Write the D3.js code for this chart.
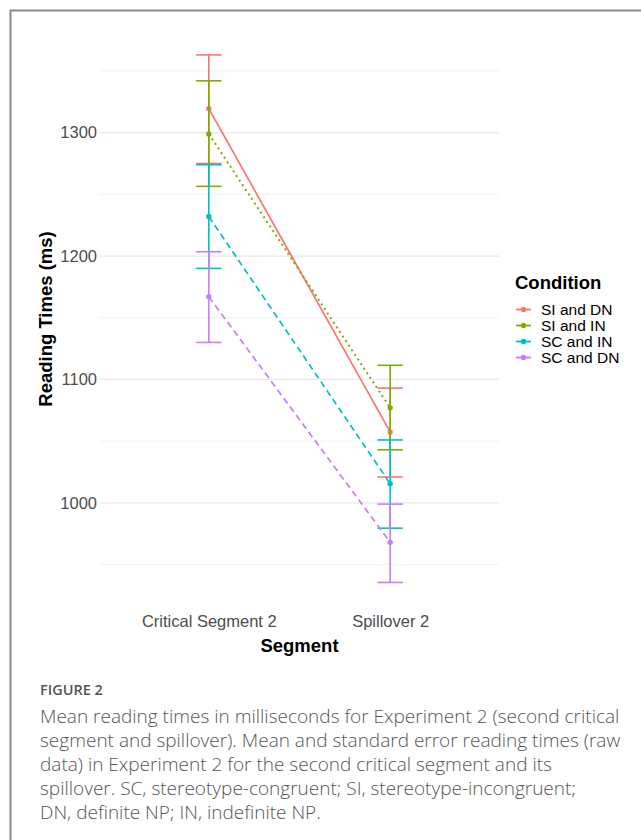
<!DOCTYPE html>
<html>
<head>
<meta charset="utf-8">
<script src="https://cdn.jsdelivr.net/npm/d3@7"></script>
<style>
  html, body { margin: 0; padding: 0; background: #fff; }
  svg { display: block; }
</style>
</head>
<body>
<script>
// ---- Data ----
const segments = ["Critical Segment 2", "Spillover 2"];
const conditions = ["SI and DN", "SI and IN", "SC and IN", "SC and DN"];
const colors = ["#F8766D", "#7CAE00", "#00BFC4", "#C77CFF"];
const dashes = [null, "2,3.5", "6.5,4", "6.5,4"];
const meanSIDN = [1319.5, 1057.5];
const lowSIDN  = [1275, 1021];
const highSIDN = [1363, 1093];
const meanSIIN = [1299, 1077];
const lowSIIN  = [1256.5, 1043];
const highSIIN = [1342, 1111.5];
const meanSCIN = [1232, 1015.5];
const lowSCIN  = [1190, 979.5];
const highSCIN = [1274, 1051];
const meanSCDN = [1167, 968];
const lowSCDN  = [1130, 935.5];
const highSCDN = [1203.5, 999];
const yTicks = [1000, 1100, 1200, 1300];
const yMinor = [950, 1050, 1150, 1250, 1350];
const captionTitle = "FIGURE 2";
const captionLines = [
  "Mean reading times in milliseconds for Experiment 2 (second critical",
  "segment and spillover). Mean and standard error reading times (raw",
  "data) in Experiment 2 for the second critical segment and its",
  "spillover. SC, stereotype-congruent; SI, stereotype-incongruent;",
  "DN, definite NP; IN, indefinite NP."
];

const series = [
  {name: conditions[0], mean: meanSIDN, low: lowSIDN, high: highSIDN},
  {name: conditions[1], mean: meanSIIN, low: lowSIIN, high: highSIIN},
  {name: conditions[2], mean: meanSCIN, low: lowSCIN, high: highSCIN},
  {name: conditions[3], mean: meanSCDN, low: lowSCDN, high: highSCDN}
];

const W = 641, H = 840;
const svg = d3.select("body").append("svg").attr("width", W).attr("height", H);

// Frame
svg.append("path").attr("d", `M10.5,${H} L10.5,10.5 L${W},10.5`)
  .attr("fill", "none").attr("stroke", "#8a8a8a").attr("stroke-width", 2);

const panel = {left: 100, right: 499, top: 29, bottom: 609};
const x = d3.scalePoint().domain(segments).range([panel.left, panel.right]).padding(0.6);
const y = d3.scaleLinear().domain([914, 1384]).range([panel.bottom, panel.top]);
const step = x.step();
const capHalf = step * 0.07;

const font = "Liberation Sans, Arial, sans-serif";

// Grid
const g = svg.append("g");
g.selectAll(".minor").data(yMinor).join("line")
  .attr("x1", panel.left).attr("x2", panel.right)
  .attr("y1", d => y(d)).attr("y2", d => y(d))
  .attr("stroke", "#efefef").attr("stroke-width", 0.8);
g.selectAll(".major").data(yTicks).join("line")
  .attr("x1", panel.left).attr("x2", panel.right)
  .attr("y1", d => y(d)).attr("y2", d => y(d))
  .attr("stroke", "#e8e8e8").attr("stroke-width", 1.2);

// Axes (minimal style: no axis lines or ticks)
const yAxis = d3.axisLeft(y).tickValues(yTicks).tickFormat(d3.format("d")).tickSize(0).tickPadding(0);
const ya = svg.append("g").attr("transform", `translate(97,0)`).call(yAxis);
ya.select(".domain").remove();
ya.selectAll("text").attr("font-family", font).attr("font-size", 16.5).attr("fill", "#4d4d4d");

const xAxis = d3.axisBottom(x).tickSize(0).tickPadding(0);
const xa = svg.append("g").attr("transform", `translate(0,614)`).call(xAxis);
xa.select(".domain").remove();
xa.selectAll("text").attr("font-family", font).attr("font-size", 16.5).attr("fill", "#4d4d4d").attr("dy", "0.76em");

svg.append("text").attr("x", (panel.left + panel.right) / 2).attr("y", 652)
  .attr("text-anchor", "middle").attr("font-family", font).attr("font-weight", "bold")
  .attr("font-size", 18.5).attr("fill", "#000").text("Segment");
svg.append("text").attr("transform", `translate(52,${(panel.top + panel.bottom) / 2}) rotate(-90)`)
  .attr("text-anchor", "middle").attr("font-family", font).attr("font-weight", "bold")
  .attr("font-size", 18.5).attr("fill", "#000").text("Reading Times (ms)");

// Series
const line = d3.line().x((d, i) => x(segments[i])).y(d => y(d));
series.forEach((s, k) => {
  const c = colors[k];
  const sg = svg.append("g");
  segments.forEach((seg, i) => {
    const cx = x(seg);
    sg.append("line").attr("x1", cx).attr("x2", cx).attr("y1", y(s.low[i])).attr("y2", y(s.high[i]))
      .attr("stroke", c).attr("stroke-width", 1.6);
    [s.low[i], s.high[i]].forEach(v => {
      sg.append("line").attr("x1", cx - capHalf).attr("x2", cx + capHalf).attr("y1", y(v)).attr("y2", y(v))
        .attr("stroke", c).attr("stroke-width", 1.6);
    });
  });
  const p = sg.append("path").datum(s.mean).attr("d", line)
    .attr("fill", "none").attr("stroke", c).attr("stroke-width", k === 1 ? 2 : 1.7);
  if (dashes[k]) p.attr("stroke-dasharray", dashes[k]);
  sg.selectAll("circle").data(s.mean).join("circle")
    .attr("cx", (d, i) => x(segments[i])).attr("cy", d => y(d)).attr("r", 2.7).attr("fill", c);
});

// Legend
const lg = svg.append("g");
lg.append("text").attr("x", 515).attr("y", 289).attr("font-family", font).attr("font-weight", "bold")
  .attr("font-size", 18.5).attr("fill", "#000").text("Condition");
conditions.forEach((name, k) => {
  const cy = 309.5 + k * 16;
  lg.append("line").attr("x1", 516).attr("x2", 531).attr("y1", cy).attr("y2", cy)
    .attr("stroke", colors[k]).attr("stroke-width", 1.8);
  lg.append("circle").attr("cx", 523.5).attr("cy", cy).attr("r", 2.7).attr("fill", colors[k]);
  lg.append("text").attr("x", 541).attr("y", cy).attr("dy", "0.34em").attr("font-family", font)
    .attr("font-size", 15.5).attr("fill", "#000").text(name);
});

// Caption
const capFont = "'Open Sans', sans-serif";
svg.append("text").attr("x", 40).attr("y", 695).attr("font-family", capFont).attr("font-weight", 600)
  .attr("font-size", 14.5).attr("fill", "#555").text(captionTitle);
captionLines.forEach((t, i) => {
  svg.append("text").attr("x", 40).attr("y", 723 + i * 24).attr("font-family", capFont)
    .attr("font-size", 19).attr("font-weight", 300).attr("fill", "#555").text(t);
});
</script>
</body>
</html>
